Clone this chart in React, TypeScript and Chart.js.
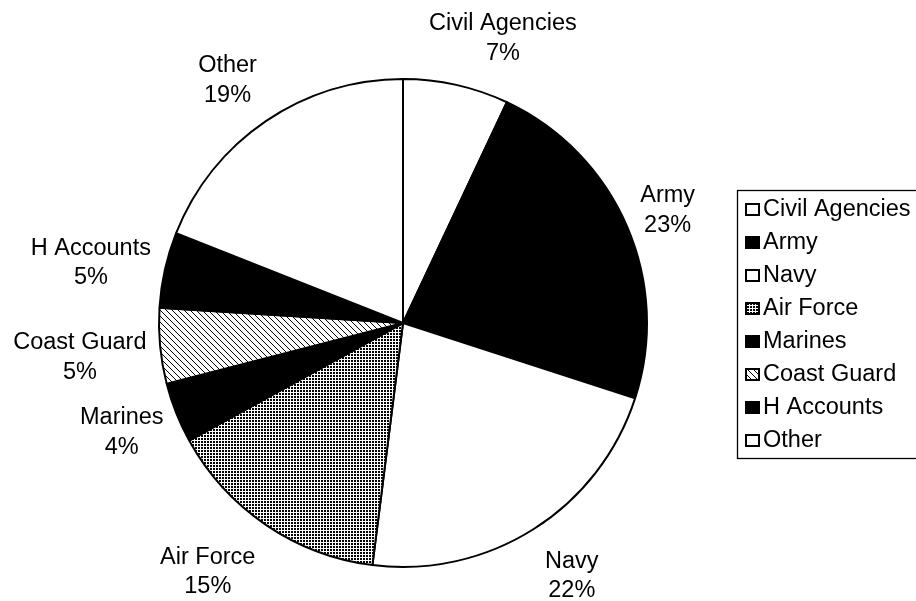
import React, { useEffect, useRef } from 'react';
import { Chart, registerables } from 'chart.js';

Chart.register(...registerables);

const categories = ['Civil Agencies', 'Army', 'Navy', 'Air Force', 'Marines', 'Coast Guard', 'H Accounts', 'Other'];
const shares = [7, 23, 22, 15, 4, 5, 5, 19];
const fillKinds = ['white', 'black', 'white', 'dots', 'black', 'hatch', 'black', 'white'];

// layout-only nudges for the outside labels (pixels), relative to the computed spot
const labelNudgeX = [35, -4, 12, -24, 3, 2, 2, -10];
const labelNudgeY = [6, 4, 6, -3, -3, 4, 10, 1];

const FONT = '23.5px "Liberation Sans", Arial, Helvetica, sans-serif';
const LINE_GAP = 29.5;
const LABEL_GAP = 14;
const HALF_BLOCK_H = 24;

function makePattern(kind: string): CanvasPattern | string {
  const c = document.createElement('canvas');
  const g = c.getContext('2d')!;
  if (kind === 'dots') {
    c.width = 3; c.height = 3;
    g.fillStyle = '#fff'; g.fillRect(0, 0, 3, 3);
    g.fillStyle = '#000'; g.fillRect(0, 0, 2, 2);
  } else {
    c.width = 6; c.height = 6;
    g.fillStyle = '#fff'; g.fillRect(0, 0, 6, 6);
    g.strokeStyle = '#000'; g.lineWidth = 1;
    g.beginPath();
    g.moveTo(-1, -1); g.lineTo(7, 7);
    g.moveTo(-1, 5); g.lineTo(1, 7);
    g.moveTo(5, -1); g.lineTo(7, 1);
    g.stroke();
  }
  const p = g.createPattern(c, 'repeat');
  return p || '#888';
}

export default function App() {
  const ref = useRef<HTMLCanvasElement>(null);

  useEffect(() => {
    const canvas = ref.current!;
    const bg = fillKinds.map((f) => (f === 'white' ? '#ffffff' : f === 'black' ? '#000000' : makePattern(f)));

    const labelPlugin = {
      id: 'outerLabels',
      afterDatasetsDraw(chart: any) {
        const ctx = chart.ctx as CanvasRenderingContext2D;
        const meta = chart.getDatasetMeta(0);
        ctx.save();
        ctx.font = FONT;
        ctx.fillStyle = '#000';
        ctx.textAlign = 'center';
        ctx.textBaseline = 'middle';
        meta.data.forEach((arc: any, i: number) => {
          const { startAngle, endAngle, outerRadius, x, y } = arc.getProps(
            ['startAngle', 'endAngle', 'outerRadius', 'x', 'y'],
            true
          );
          const mid = (startAngle + endAngle) / 2;
          const dx = Math.cos(mid);
          const dy = Math.sin(mid);
          const l1 = categories[i];
          const l2 = shares[i] + '%';
          const hw = Math.max(ctx.measureText(l1).width, ctx.measureText(l2).width) / 2;
          const d = outerRadius + LABEL_GAP + hw * Math.abs(dx) + HALF_BLOCK_H * Math.abs(dy);
          const cx = x + dx * d + labelNudgeX[i];
          const cy = y + dy * d + labelNudgeY[i];
          ctx.fillText(l1, cx, cy - LINE_GAP / 2);
          ctx.fillText(l2, cx, cy + LINE_GAP / 2);
        });
        ctx.restore();
      },
    };

    const legendPlugin = {
      id: 'boxLegend',
      afterDraw(chart: any) {
        const ctx = chart.ctx as CanvasRenderingContext2D;
        const left = 737.5;
        const top = 190.5;
        const bottom = 458.5;
        const right = chart.width + 4;
        const firstY = 209.5;
        const step = 33;
        ctx.save();
        ctx.strokeStyle = '#000';
        ctx.lineWidth = 1.3;
        ctx.strokeRect(left, top, right - left, bottom - top);
        ctx.font = FONT;
        ctx.textAlign = 'left';
        ctx.textBaseline = 'middle';
        categories.forEach((name, i) => {
          const cy = firstY + i * step;
          ctx.fillStyle = bg[i] as any;
          ctx.fillRect(745, cy - 6.5, 15, 13);
          ctx.lineWidth = 2;
          ctx.strokeStyle = '#000';
          ctx.strokeRect(746, cy - 5.5, 13, 11);
          ctx.fillStyle = '#000';
          ctx.fillText(name, 763, cy);
        });
        ctx.restore();
      },
    };

    const chart = new Chart(canvas, {
      type: 'pie',
      data: {
        labels: categories,
        datasets: [
          {
            data: shares,
            backgroundColor: bg as any,
            borderColor: '#000',
            borderWidth: 2,
          },
        ],
      },
      options: {
        responsive: false,
        animation: false,
        layout: { padding: { left: 158, right: 268, top: 78, bottom: 33 } },
        plugins: {
          legend: { display: false },
          tooltip: { enabled: false },
        },
      },
      plugins: [labelPlugin, legendPlugin],
    });
    return () => chart.destroy();
  }, []);

  return (
    <div style={{ position: 'absolute', left: 0, top: 0, width: 916, height: 601, background: '#fff' }}>
      <canvas ref={ref} width={916} height={601} style={{ display: 'block' }} />
    </div>
  );
}
